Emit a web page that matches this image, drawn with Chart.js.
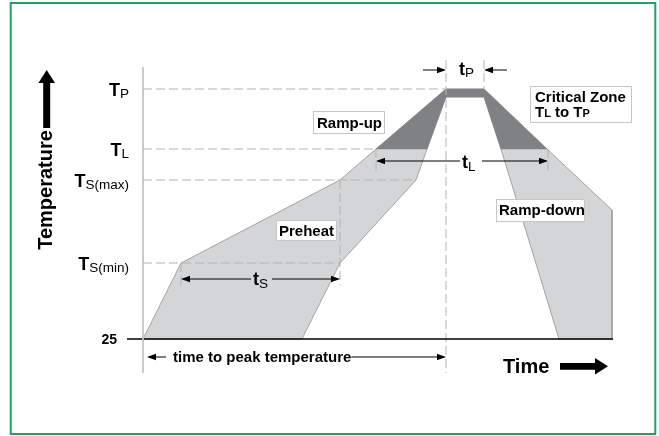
<!DOCTYPE html>
<html>
<head>
<meta charset="utf-8">
<script src="https://cdn.jsdelivr.net/npm/chart.js@4.4.1/dist/chart.umd.min.js"></script>
<style>
html, body { margin: 0; padding: 0; background: #fff; }
#wrap { position: relative; width: 659px; height: 436px; }
</style>
</head>
<body>
<div id="wrap"><canvas id="profile"></canvas></div>
<script>
// schematic reflow profile: time from start, temperature above 25 (arbitrary units)
const levelMain = ['25', 'T', 'T', 'T', 'T'];
const levelSub = ['', 'S(min)', 'S(max)', 'L', 'P'];
const levelTemp = [0, 76, 159, 190, 250];

// outline of the allowed band, upper/outer side then lower/inner side
const outerTime = [0, 38, 197, 233, 303, 341, 404, 469, 469];
const outerTemp = [0, 76, 159, 190, 250, 250, 190, 129, 0];
const innerTime = [416, 358, 341, 303, 284, 273, 197, 159];
const innerTemp = [0, 190, 242, 242, 190, 159, 76, 0];

const tsSpan = [38, 197];
const tlSpan = [233, 405];
const tpSpan = [303, 341];

const [T25, TSMIN, TSMAX, TL, TP] = levelTemp;

const FONT = '"Liberation Sans", Arial, sans-serif';

function pts(xs, ys) {
    return xs.map((x, i) => ({x: x, y: ys[i]}));
}

const band = pts(outerTime.concat(innerTime), outerTemp.concat(innerTemp));
band.push(band[0]);
const critical = pts(outerTime.slice(3, 7).concat(innerTime.slice(1, 5)),
                     outerTemp.slice(3, 7).concat(innerTemp.slice(1, 5)));
critical.push(critical[0]);

function dashed(x1, y1, x2, y2) {
    return {
        data: [{x: x1, y: y1}, {x: x2, y: y2}],
        borderColor: '#b3b3b3', borderWidth: 1, borderDash: [9, 4],
        pointRadius: 0, fill: false, order: 1
    };
}
function solid(x1, y1, x2, y2, color, width) {
    return {
        data: [{x: x1, y: y1}, {x: x2, y: y2}],
        borderColor: color, borderWidth: width,
        pointRadius: 0, fill: false, order: 0
    };
}

const datasets = [
    {data: band, backgroundColor: '#d4d5d7', borderColor: '#a2a2a4', borderWidth: 1, pointRadius: 0, fill: 'shape', order: 3},
    {data: critical, backgroundColor: '#808184', borderColor: '#808184', borderWidth: 0.5, pointRadius: 0, fill: 'shape', order: 2},
    dashed(0, TP, tpSpan[0], TP),
    dashed(0, TL, tlSpan[0], TL),
    dashed(0, TSMAX, innerTime[5], TSMAX),
    dashed(0, TSMIN, tsSpan[1], TSMIN),
    dashed(tsSpan[0], TSMIN, tsSpan[0], 54),
    dashed(tsSpan[1], TSMAX, tsSpan[1], 54),
    dashed(tlSpan[0], TL, tlSpan[0], 167),
    dashed(tlSpan[1], TL, tlSpan[1], 167),
    dashed(tpSpan[0], 279, tpSpan[0], -34),
    dashed(tpSpan[1], 279, tpSpan[1], TP),
    solid(0, 272, 0, -34, '#c4c4c4', 1),
    solid(-16, T25, 470, T25, '#000', 1.3)
];

function head(ctx, x, y, dir) {
    ctx.beginPath();
    ctx.moveTo(x, y);
    ctx.lineTo(x - dir * 9, y - 3.3);
    ctx.lineTo(x - dir * 9, y + 3.3);
    ctx.closePath();
    ctx.fill();
}
function hline(ctx, x1, x2, y) {
    ctx.beginPath();
    ctx.moveTo(x1, y);
    ctx.lineTo(x2, y);
    ctx.stroke();
}
function subText(ctx, main, sub, x, y, mainFont, subFont, subDy, align) {
    ctx.font = mainFont;
    const w1 = ctx.measureText(main).width;
    ctx.font = subFont;
    const w2 = ctx.measureText(sub).width;
    let left = align === 'right' ? x - w1 - w2 : x;
    ctx.textAlign = 'left';
    ctx.font = mainFont;
    ctx.fillText(main, left, y);
    ctx.font = subFont;
    ctx.fillText(sub, left + w1, y + subDy);
}
function boxLabel(ctx, text, x1, y1, x2, y2, tx, ty) {
    ctx.fillStyle = '#fff';
    ctx.fillRect(x1, y1, x2 - x1, y2 - y1);
    ctx.strokeStyle = '#c6c6c6';
    ctx.lineWidth = 1;
    ctx.strokeRect(x1 + 0.5, y1 + 0.5, x2 - x1, y2 - y1);
    ctx.fillStyle = '#000';
    ctx.font = 'bold 15px ' + FONT;
    ctx.textAlign = 'left';
    if (text) ctx.fillText(text, tx, ty);
}

const annotations = {
    id: 'annotations',
    beforeDraw(chart) {
        const ctx = chart.ctx;
        ctx.save();
        ctx.strokeStyle = '#22a065';
        ctx.lineWidth = 2;
        ctx.strokeRect(10.7, 3, 644.6, 431);
        ctx.restore();
    },
    afterDatasetsDraw(chart) {
        const ctx = chart.ctx;
        const sx = v => chart.scales.x.getPixelForValue(v);
        const sy = v => chart.scales.y.getPixelForValue(v);
        ctx.save();
        ctx.fillStyle = '#000';
        ctx.strokeStyle = '#000';
        ctx.lineWidth = 1;
        ctx.textBaseline = 'alphabetic';

        // temperature levels
        levelTemp.forEach((t, i) => {
            if (i === 0) {
                ctx.font = 'bold 14px ' + FONT;
                ctx.textAlign = 'right';
                ctx.fillText(levelMain[i], sx(-26), sy(t) + 5);
            } else {
                subText(ctx, levelMain[i], levelSub[i], sx(-14), sy(t) + 6.5,
                    'bold 18px ' + FONT, '13.5px ' + FONT, 2, 'right');
            }
        });

        // t_P
        const yP = sy(269);
        hline(ctx, sx(280), sx(tpSpan[0]) - 2, yP);
        head(ctx, sx(tpSpan[0]), yP, 1);
        hline(ctx, sx(tpSpan[1]) + 2, sx(364), yP);
        head(ctx, sx(tpSpan[1]), yP, -1);
        subText(ctx, 't', 'P', 459, sy(264), 'bold 18px ' + FONT, '13.5px ' + FONT, 2, 'left');

        // t_L
        const yL = sy(178);
        hline(ctx, sx(tlSpan[0]) + 2, 460, yL);
        hline(ctx, 482, sx(tlSpan[1]) - 2, yL);
        head(ctx, sx(tlSpan[0]), yL, -1);
        head(ctx, sx(tlSpan[1]), yL, 1);
        subText(ctx, 't', 'L', 462, sy(171), 'bold 18px ' + FONT, '13.5px ' + FONT, 3, 'left');

        // t_S
        const yS = sy(60);
        hline(ctx, sx(tsSpan[0]) + 2, 251, yS);
        hline(ctx, 272, sx(tsSpan[1]) - 2, yS);
        head(ctx, sx(tsSpan[0]), yS, -1);
        head(ctx, sx(tsSpan[1]), yS, 1);
        subText(ctx, 't', 'S', 253, sy(54), 'bold 18px ' + FONT, '13.5px ' + FONT, 3, 'left');

        // time to peak temperature
        const yT = sy(-18);
        head(ctx, sx(4), yT, -1);
        hline(ctx, sx(4) + 2, 166, yT);
        ctx.font = 'bold 15px ' + FONT;
        ctx.textAlign = 'left';
        ctx.fillText('time to peak temperature', 173, yT + 5);
        const tw = ctx.measureText('time to peak temperature').width;
        hline(ctx, 173 + tw, sx(tpSpan[0]) - 2, yT);
        head(ctx, sx(tpSpan[0]), yT, 1);

        // axis titles
        ctx.save();
        ctx.translate(52, 190);
        ctx.rotate(-Math.PI / 2);
        ctx.font = 'bold 20px ' + FONT;
        ctx.textAlign = 'center';
        ctx.fillText('Temperature', 0, 0);
        ctx.restore();
        ctx.beginPath();
        ctx.moveTo(46.7, 70);
        ctx.lineTo(55, 83);
        ctx.lineTo(50.2, 83);
        ctx.lineTo(50.2, 128);
        ctx.lineTo(43.2, 128);
        ctx.lineTo(43.2, 83);
        ctx.lineTo(38.4, 83);
        ctx.closePath();
        ctx.fill();

        ctx.font = 'bold 20px ' + FONT;
        ctx.textAlign = 'left';
        ctx.fillText('Time', 503, 373);
        ctx.beginPath();
        ctx.moveTo(560, 363);
        ctx.lineTo(595, 363);
        ctx.lineTo(595, 358);
        ctx.lineTo(608, 366.3);
        ctx.lineTo(595, 374.5);
        ctx.lineTo(595, 369.7);
        ctx.lineTo(560, 369.7);
        ctx.closePath();
        ctx.fill();

        // boxed notes
        boxLabel(ctx, 'Ramp-up', 313, 111, 384, 133, 317, 128);
        boxLabel(ctx, 'Preheat', 276, 220, 336, 240, 279, 235.5);
        boxLabel(ctx, 'Ramp-down', 496, 199, 584, 221, 499, 214.5);
        boxLabel(ctx, 'Critical Zone', 530, 86, 631, 122, 535, 102);
        let x = 535;
        const parts = [['T', 15], ['L', 11], [' to T', 15], ['P', 11]];
        parts.forEach(p => {
            ctx.font = 'bold ' + p[1] + 'px ' + FONT;
            ctx.fillText(p[0], x, 117);
            x += ctx.measureText(p[0]).width;
        });
        ctx.restore();
    }
};

new Chart(document.getElementById('profile'), {
    type: 'line',
    data: {datasets: datasets},
    options: {
        responsive: true,
        maintainAspectRatio: false,
        animation: false,
        events: [],
        layout: {padding: 0},
        elements: {line: {tension: 0}},
        scales: {
            x: {type: 'linear', min: -143, max: 516, display: false},
            y: {type: 'linear', min: -97, max: 339, display: false}
        },
        plugins: {
            legend: {display: false},
            tooltip: {enabled: false}
        }
    },
    plugins: [annotations]
});
</script>
</body>
</html>
